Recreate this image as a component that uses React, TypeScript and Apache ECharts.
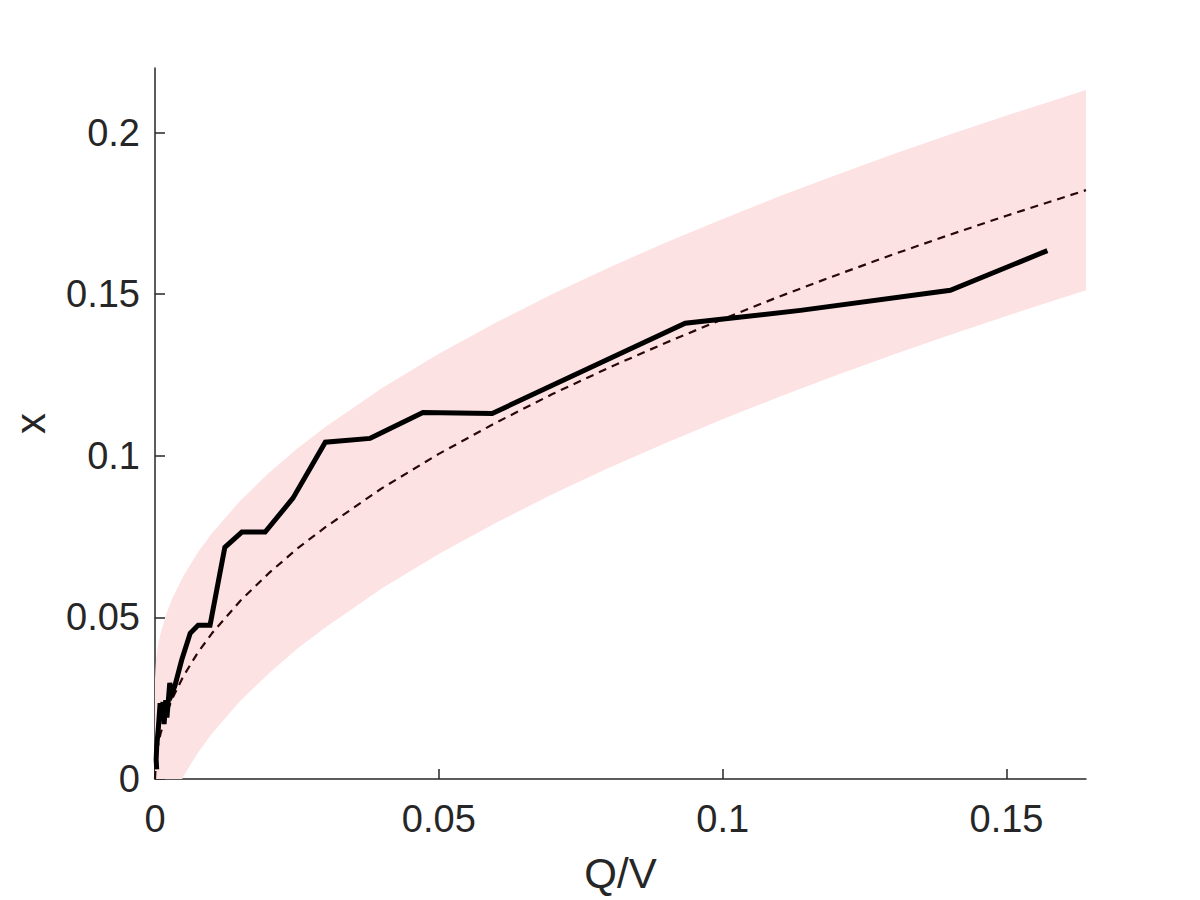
import React, { useEffect, useRef } from "react";
import * as echarts from "echarts";

// Observed curve (Q/V, x)
const obsQV = [0.0003, 0.0002, 0.0003, 0.0006, 0.0009, 0.0011, 0.0014, 0.0016, 0.0019, 0.0021, 0.0026, 0.003, 0.0035, 0.0047, 0.0062, 0.0076, 0.0097, 0.0123, 0.0153, 0.0194, 0.0243, 0.03, 0.0379, 0.0472, 0.0594, 0.0934, 0.1137, 0.1401, 0.1572];
const obsX = [0.003, 0.006, 0.01, 0.016, 0.0235, 0.018, 0.0238, 0.017, 0.0244, 0.019, 0.0297, 0.0266, 0.0288, 0.0368, 0.0451, 0.0476, 0.0476, 0.0717, 0.0764, 0.0764, 0.0869, 0.1042, 0.1054, 0.1134, 0.1131, 0.141, 0.145, 0.1512, 0.1635];

// Fitted curve and its band, sampled along Q/V
const fitQV = [0, 0.0002, 0.0005, 0.001, 0.002, 0.003, 0.005, 0.0075, 0.01, 0.015, 0.02, 0.025, 0.03, 0.04, 0.05, 0.06, 0.07, 0.08, 0.09, 0.1, 0.11, 0.12, 0.13, 0.14, 0.15, 0.164];
const fitX = [0, 0.0064, 0.0101, 0.0142, 0.0201, 0.0247, 0.0318, 0.039, 0.045, 0.0551, 0.0636, 0.0712, 0.0779, 0.09, 0.1006, 0.1102, 0.1191, 0.1273, 0.135, 0.1423, 0.1493, 0.1559, 0.1623, 0.1684, 0.1743, 0.1822];
const bandLow = [-0.031, -0.0246, -0.0209, -0.0168, -0.0109, -0.0063, 0.0008, 0.008, 0.014, 0.0241, 0.0326, 0.0402, 0.0469, 0.059, 0.0696, 0.0792, 0.0881, 0.0963, 0.104, 0.1113, 0.1183, 0.1249, 0.1313, 0.1374, 0.1433, 0.1512];
const bandHigh = [0.031, 0.0374, 0.0411, 0.0452, 0.0511, 0.0557, 0.0628, 0.07, 0.076, 0.0861, 0.0946, 0.1022, 0.1089, 0.121, 0.1316, 0.1412, 0.1501, 0.1583, 0.166, 0.1733, 0.1803, 0.1869, 0.1933, 0.1994, 0.2053, 0.2132];

// Axis ticks
const xTicks = [0, 0.05, 0.1, 0.15];
const yTicks = [0, 0.05, 0.1, 0.15, 0.2];

const FONT = "Liberation Sans";
const AXIS = "#262626";

export default function App() {
  const ref = useRef<HTMLDivElement>(null);
  useEffect(() => {
    if (!ref.current) return;
    const chart = echarts.init(ref.current, null, { renderer: "svg" });
    const fmt = (v: number) => String(+Number(v).toFixed(4));
    chart.setOption({
      animation: false,
      backgroundColor: "#ffffff",
      grid: { left: 155, right: 114, top: 68, bottom: 121, containLabel: false, outerBoundsMode: "none" },
      xAxis: {
        type: "value",
        min: 0,
        max: 0.164,
        name: "Q/V",
        nameLocation: "middle",
        nameGap: 73,
        nameTextStyle: { fontFamily: FONT, fontSize: 42, color: AXIS },
        axisLine: { show: true, onZero: false, lineStyle: { color: AXIS, width: 1.5 } },
        axisTick: { show: true, inside: true, length: 10, customValues: xTicks, lineStyle: { color: AXIS, width: 1.5 } },
        axisLabel: { customValues: xTicks, margin: 21, fontFamily: FONT, fontSize: 38, color: AXIS, formatter: fmt },
        splitLine: { show: false },
      },
      yAxis: {
        type: "value",
        min: 0,
        max: 0.22,
        name: "x",
        nameLocation: "middle",
        nameRotate: 90,
        nameGap: 104,
        nameTextStyle: { fontFamily: FONT, fontSize: 42, color: AXIS },
        axisLine: { show: true, onZero: false, lineStyle: { color: AXIS, width: 1.5 } },
        axisTick: { show: true, inside: true, length: 10, customValues: yTicks, lineStyle: { color: AXIS, width: 1.5 } },
        axisLabel: { customValues: yTicks, margin: 15, fontFamily: FONT, fontSize: 38, color: AXIS, formatter: fmt },
        splitLine: { show: false },
      },
      series: [
        {
          type: "custom",
          silent: true,
          z: 1,
          encode: { x: 0, y: [1, 2] },
          data: fitQV.map((q, i) => [q, bandLow[i], bandHigh[i]]),
          renderItem: (params: any, api: any) => {
            if (params.dataIndex !== 0) return null;
            const top = fitQV.map((q, i) => api.coord([q, bandHigh[i]]));
            const bottom = fitQV.map((q, i) => api.coord([q, bandLow[i]])).reverse();
            const cs = params.coordSys;
            return {
              type: "polygon",
              shape: { points: top.concat(bottom) },
              style: { fill: "#fde2e4", stroke: "none" },
              clipPath: { type: "rect", shape: { x: cs.x, y: cs.y, width: cs.width, height: cs.height } },
            };
          },
        },
        {
          type: "line",
          symbol: "none",
          silent: true,
          lineStyle: { color: "#2a0808", width: 2.2, type: [8, 6] },
          data: fitQV.map((q, i) => [q, fitX[i]]),
          z: 2,
        },
        {
          type: "line",
          symbol: "none",
          silent: true,
          lineStyle: { color: "#000000", width: 5, join: "miter" },
          data: obsQV.map((q, i) => [q, obsX[i]]),
          z: 3,
        },
      ],
    });
    return () => chart.dispose();
  }, []);
  return (
    <div
      ref={ref}
      style={{ position: "fixed", left: 0, top: 0, width: 1200, height: 900, background: "#fff" }}
    />
  );
}
